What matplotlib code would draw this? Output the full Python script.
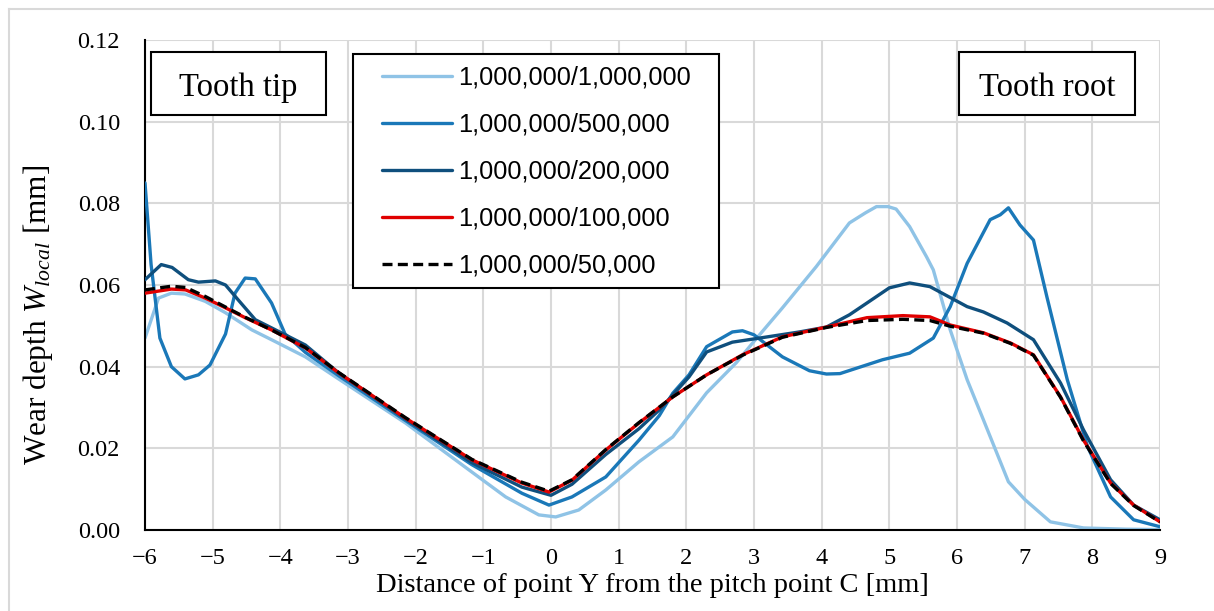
import numpy as np
import matplotlib
matplotlib.use("Agg")
import matplotlib.pyplot as plt
from matplotlib.patches import Rectangle
from matplotlib.lines import Line2D

# data (x in mm, wear depth in mm)
labels = ["1,000,000/1,000,000", "1,000,000/500,000", "1,000,000/200,000",
          "1,000,000/100,000", "1,000,000/50,000"]

x_1m = [-6.0, -5.8, -5.61, -5.41, -5.11, -4.81, -4.42, -4.13, -3.63, -3.14, -2.15, -1.17,
        -0.67, -0.18, 0.07, 0.41, 0.81, 1.3, 1.8, 2.3, 2.74, 3.0, 3.42, 3.92, 4.41, 4.65,
        4.81, 4.98, 5.1, 5.3, 5.55, 5.65, 5.9, 6.15, 6.39, 6.76, 7.0, 7.38, 7.87, 8.5, 9.0]
y_1m = [0.047, 0.0568, 0.058, 0.0578, 0.056, 0.0532, 0.049, 0.0466, 0.0424, 0.0370, 0.0262,
        0.0142, 0.0081, 0.0037, 0.0032, 0.0049, 0.0098, 0.0167, 0.0228, 0.0336, 0.041,
        0.0462, 0.0544, 0.0645, 0.0752, 0.0777, 0.0792, 0.0792, 0.0786, 0.0743, 0.0669,
        0.0637, 0.049, 0.0368, 0.027, 0.0118, 0.0075, 0.002, 0.0005, 0.0002, 0.0001]

x_500k = [-6.0, -5.91, -5.78, -5.61, -5.41, -5.21, -5.04, -4.81, -4.67, -4.52, -4.37, -4.13,
          -3.93, -3.63, -3.14, -2.15, -1.17, -0.43, -0.03, 0.31, 0.81, 1.3, 1.6, 1.8, 2.04,
          2.3, 2.68, 2.83, 3.0, 3.42, 3.82, 4.07, 4.27, 4.9, 5.3, 5.65, 5.9, 6.15, 6.49, 6.64,
          6.76, 6.93, 7.13, 7.33, 7.63, 7.93, 8.27, 8.61, 9.0]
y_500k = [0.085, 0.065, 0.047, 0.040, 0.037, 0.038, 0.0404, 0.048, 0.058, 0.0617, 0.0615,
          0.0556, 0.048, 0.0435, 0.0378, 0.0268, 0.016, 0.009, 0.0061, 0.0081, 0.013, 0.022,
          0.028, 0.0335, 0.038, 0.0449, 0.0485, 0.0488, 0.0478, 0.0424, 0.039, 0.0382,
          0.0383, 0.0417, 0.0433, 0.047, 0.0547, 0.0653, 0.076, 0.0772, 0.0789, 0.0747,
          0.071, 0.057, 0.0368, 0.0204, 0.0081, 0.0025, 0.0008]

x_200k = [-6.0, -5.76, -5.6, -5.36, -5.21, -4.96, -4.81, -4.62, -4.37, -4.13, -3.63, -3.14,
          -2.15, -1.17, -0.43, 0.0, 0.31, 0.81, 1.3, 1.6, 2.04, 2.3, 2.68, 3.08, 3.67, 4.07,
          4.41, 4.67, 5.0, 5.3, 5.6, 6.15, 6.39, 6.74, 7.13, 7.53, 7.87, 8.27, 8.61, 9.0]
y_200k = [0.0613, 0.065, 0.0643, 0.0613, 0.0607, 0.061, 0.060, 0.0563, 0.0515, 0.0495, 0.0453,
          0.0385, 0.0272, 0.0165, 0.0105, 0.0085, 0.0112, 0.0185, 0.0248, 0.0294, 0.0375,
          0.0436, 0.046, 0.047, 0.0485, 0.0497, 0.0527, 0.0556, 0.0593, 0.0605, 0.0596,
          0.0547, 0.0534, 0.0507, 0.0466, 0.036, 0.0245, 0.0123, 0.0061, 0.0025]

x_100k = [-6.0, -5.61, -5.4, -5.11, -4.81, -4.52, -4.13, -3.63, -3.14, -2.15, -1.17, -0.43,
          -0.03, 0.31, 0.81, 1.3, 1.8, 2.3, 2.83, 3.42, 4.07, 4.67, 5.2, 5.6, 5.9, 6.39, 6.79,
          7.13, 7.53, 7.87, 8.27, 8.61, 9.0]
y_100k = [0.058, 0.059, 0.0588, 0.0568, 0.0544, 0.052, 0.049, 0.0446, 0.0385, 0.0274,
          0.0172, 0.0115, 0.0093, 0.0122, 0.0196, 0.0262, 0.0326, 0.038, 0.0429, 0.0473,
          0.0497, 0.052, 0.0525, 0.0522, 0.0502, 0.0483, 0.0458, 0.0429, 0.0326, 0.022,
          0.0115, 0.0061, 0.002]

x_50k = [-6.0, -5.61, -5.4, -5.11, -4.81, -4.52, -4.13, -3.63, -3.14, -2.15, -1.17, -0.43,
         -0.03, 0.31, 0.81, 1.3, 1.8, 2.3, 2.83, 3.42, 4.07, 4.67, 5.2, 5.6, 5.9, 6.39, 6.79,
         7.13, 7.53, 7.87, 8.27, 8.61, 9.0]
y_50k = [0.0588, 0.0597, 0.0594, 0.0572, 0.0546, 0.0521, 0.049, 0.0447, 0.0386, 0.0275,
         0.0173, 0.0117, 0.0095, 0.0123, 0.0197, 0.0263, 0.0326, 0.038, 0.0428, 0.0472,
         0.0496, 0.0513, 0.0516, 0.0513, 0.0499, 0.0482, 0.0457, 0.0428, 0.0325, 0.0218,
         0.0114, 0.006, 0.002]

colors = ["#8fc3e6", "#1a78b8", "#0f4f7d", "#e00000", "#000000"]

x_ticks = list(range(-6, 10))
y_ticks = [0.00, 0.02, 0.04, 0.06, 0.08, 0.10, 0.12]

plt.rcParams["font.family"] = ["Liberation Serif", "DejaVu Serif"]
plt.rcParams["mathtext.fontset"] = "custom"
plt.rcParams["mathtext.rm"] = "Liberation Serif"
plt.rcParams["mathtext.it"] = "Liberation Serif:italic"

W, H = 1214, 611
fig = plt.figure(figsize=(W / 100, H / 100), dpi=100)
ax = fig.add_axes([145 / W, 1 - 530 / H, (1160 - 145) / W, (530 - 40) / H])

series = [(x_1m, y_1m), (x_500k, y_500k), (x_200k, y_200k), (x_100k, y_100k), (x_50k, y_50k)]
for i, (xs, ys) in enumerate(series):
    if i == 4:
        ax.plot(xs, ys, color=colors[i], lw=2.4, ls=(0, (3.0, 1.6)), label=labels[i], zorder=6)
    else:
        ax.plot(xs, ys, color=colors[i], lw=2.4, label=labels[i], zorder=2 + i,
                solid_capstyle="round", solid_joinstyle="round")

ax.set_xlim(-6, 9)
ax.set_ylim(0, 0.12)
ax.set_xticks(x_ticks)
ax.set_yticks(y_ticks)
ax.set_yticklabels([f"{v:.2f}" for v in y_ticks])
ax.tick_params(axis="x", length=0, labelsize=17.5, pad=13)
ax.tick_params(axis="y", length=0, labelsize=17.5, pad=18)
ax.grid(True, color="#d9d9d9", lw=1.5)
ax.set_axisbelow(True)
for s in ["top", "right"]:
    ax.spines[s].set_visible(False)
for s in ["left", "bottom"]:
    ax.spines[s].set_color("black")
    ax.spines[s].set_linewidth(1.5)

ax.set_xlabel("Distance of point Y from the pitch point C [mm]", fontsize=20.5, labelpad=3)
ax.set_ylabel(r"Wear depth $\mathit{W}_{\mathit{local}}$ [mm]", fontsize=22.5)
ax.yaxis.set_label_coords((55 - 145) / 1015, (530 - 315) / 490)

# legend with a frame drawn at the reference position
ax.add_patch(Rectangle((353 / W, 1 - 288 / H), (719 - 353) / W, (288 - 54) / H,
                       transform=fig.transFigure, facecolor="white", edgecolor="black",
                       lw=1.5, zorder=9, clip_on=False))
leg = ax.legend(loc="upper left", bbox_to_anchor=(382 / W, 1 - 66 / H),
                bbox_transform=fig.transFigure,
                prop={"family": "Liberation Sans", "size": 18.3}, frameon=False,
                handlelength=2.76, handletextpad=0.25, labelspacing=0.9,
                borderpad=0, borderaxespad=0)
leg.set_zorder(10)

# annotation boxes
for x0, x1, txt in [(151, 326, "Tooth tip"), (959, 1135, "Tooth root")]:
    ax.add_patch(Rectangle((x0 / W, 1 - 115 / H), (x1 - x0) / W, 63 / H,
                           transform=fig.transFigure, facecolor="white",
                           edgecolor="black", lw=1.5, zorder=11, clip_on=False))
    ax.text((x0 + x1) / 2 / W, 1 - 96 / H, txt, ha="center", va="baseline",
            fontsize=23.5, zorder=12, transform=fig.transFigure)

# chart border
fig.add_artist(Line2D([9 / W, 1], [1 - 9 / H, 1 - 9 / H], transform=fig.transFigure,
                      color="#d9d9d9", lw=1.5))
fig.add_artist(Line2D([9 / W, 9 / W], [0, 1 - 9 / H], transform=fig.transFigure,
                      color="#d9d9d9", lw=1.5))

fig.savefig("out.png", dpi=100)
